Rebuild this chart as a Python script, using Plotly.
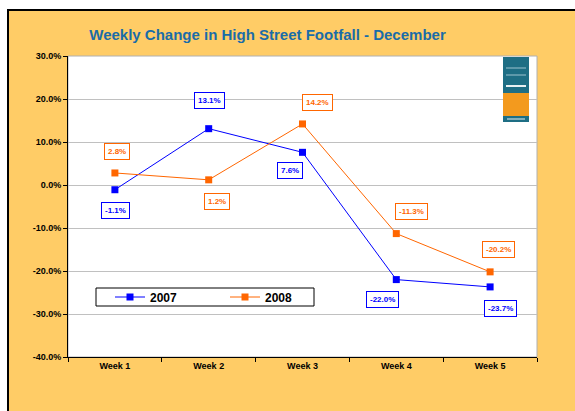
import plotly.graph_objects as go

weeks = ["Week 1", "Week 2", "Week 3", "Week 4", "Week 5"]
y2007 = [-1.1, 13.1, 7.6, -22.0, -23.7]
y2008 = [2.8, 1.2, 14.2, -11.3, -20.2]
labels2007 = ["-1.1%", "13.1%", "7.6%", "-22.0%", "-23.7%"]
labels2008 = ["2.8%", "1.2%", "14.2%", "-11.3%", "-20.2%"]
ytick_vals = [30, 20, 10, 0, -10, -20, -30, -40]
ytick_text = ["30.0%", "20.0%", "10.0%", "0.0%", "-10.0%", "-20.0%", "-30.0%", "-40.0%"]
# label offsets (px) relative to points
off2007 = [(1, -21), (1, 28), (-13, -18), (-14, -20), (10, -22)]
off2008 = [(2, 21), (8, -22), (15, 21), (15, 22), (8, 22)]

BLUE = "#0000FF"
ORANGE = "#FF6600"
BG = "#FFCC66"
FONT = "Liberation Sans, Arial, sans-serif"

L, R, T, B = 68, 38, 56, 54
W, H = 575, 411
pw, ph = W - L - R, H - T - B

def px(x):
    return (x - L) / pw

def py(y):
    return (H - B - y) / ph

fig = go.Figure()
fig.add_trace(go.Scatter(x=weeks, y=y2007, name="2007", mode="lines+markers",
                         line=dict(color=BLUE, width=1),
                         marker=dict(symbol="square", size=7, color=BLUE)))
fig.add_trace(go.Scatter(x=weeks, y=y2008, name="2008", mode="lines+markers",
                         line=dict(color=ORANGE, width=1),
                         marker=dict(symbol="square", size=7, color=ORANGE)))

annotations = []
for i, w in enumerate(weeks):
    for vals, labs, offs, col in [(y2007, labels2007, off2007, BLUE),
                                  (y2008, labels2008, off2008, ORANGE)]:
        annotations.append(dict(x=w, y=vals[i], text=labs[i], showarrow=False,
                                xshift=offs[i][0], yshift=offs[i][1],
                                font=dict(family=FONT, size=8, color=col, weight="bold"),
                                bgcolor="white", bordercolor=col, borderwidth=1,
                                borderpad=3))

shapes = [
    # outer orange frame
    dict(type="rect", xref="paper", yref="paper", layer="below",
         x0=px(8), x1=px(590), y0=py(425), y1=py(10),
         fillcolor=BG, line=dict(color="black", width=2)),
    # white plot area
    dict(type="rect", xref="paper", yref="paper", layer="below",
         x0=0, x1=1, y0=0, y1=1, fillcolor="white", line=dict(width=0)),
    # plot border (gray)
    dict(type="rect", xref="paper", yref="paper", layer="between",
         x0=0, x1=1, y0=0, y1=1, line=dict(color="#B0B0B0", width=1)),
    # legend box
    dict(type="rect", xref="paper", yref="paper", layer="above",
         x0=px(96), x1=px(314), y0=py(306), y1=py(288),
         fillcolor="white", line=dict(color="black", width=1)),
    # logo approximation
    dict(type="rect", xref="paper", yref="paper", layer="above",
         x0=px(503), x1=px(529), y0=py(93), y1=py(57),
         fillcolor="#1E6E84", line=dict(width=0)),
    dict(type="rect", xref="paper", yref="paper", layer="above",
         x0=px(503), x1=px(529), y0=py(116), y1=py(93),
         fillcolor="#F39A1E", line=dict(width=0)),
    dict(type="rect", xref="paper", yref="paper", layer="above",
         x0=px(503), x1=px(529), y0=py(122), y1=py(116),
         fillcolor="#1E6E84", line=dict(width=0)),
    dict(type="line", xref="paper", yref="paper", layer="above",
         x0=px(506), x1=px(526), y0=py(68), y1=py(68),
         line=dict(color="#9CC3CF", width=1)),
    dict(type="line", xref="paper", yref="paper", layer="above",
         x0=px(506), x1=px(526), y0=py(75), y1=py(75),
         line=dict(color="#9CC3CF", width=1)),
    dict(type="line", xref="paper", yref="paper", layer="above",
         x0=px(506), x1=px(526), y0=py(86), y1=py(86),
         line=dict(color="#E8F0F2", width=2)),
    dict(type="line", xref="paper", yref="paper", layer="above",
         x0=px(507), x1=px(525), y0=py(119), y1=py(119),
         line=dict(color="#E8F0F2", width=1)),
]

fig.update_layout(
    width=W, height=H,
    margin=dict(l=L, r=R, t=T, b=B),
    paper_bgcolor="white",
    plot_bgcolor="white",
    title=dict(text="Weekly Change in High Street Footfall - December",
               x=267.5 / W, xref="container", xanchor="center",
               y=1 - 35 / H, yref="container", yanchor="middle",
               font=dict(family=FONT, size=15, color="#1A6CA8", weight="bold")),
    showlegend=True,
    legend=dict(orientation="h", x=px(110), xanchor="left",
                y=py(297), yanchor="middle",
                bgcolor="rgba(0,0,0,0)", borderwidth=0,
                font=dict(family=FONT, size=12, color="black", weight="bold"),
                entrywidth=70, entrywidthmode="pixels"),
    annotations=annotations,
    shapes=shapes,
    xaxis=dict(type="category", range=[-0.5, 4.5], tickson="boundaries",
               ticks="outside", ticklen=4, tickcolor="black",
               showline=True, linecolor="black", linewidth=1,
               showgrid=False, zeroline=False,
               tickfont=dict(family=FONT, size=9, color="black", weight="bold")),
    yaxis=dict(range=[-40, 30], tickmode="array", tickvals=ytick_vals, ticktext=ytick_text,
               ticks="outside", ticklen=4, tickcolor="black",
               showline=True, linecolor="black", linewidth=1,
               showgrid=True, gridcolor="#C0C0C0", gridwidth=1,
               zeroline=False,
               tickfont=dict(family=FONT, size=9, color="black", weight="bold")),
)

fig.write_html("out.html")
